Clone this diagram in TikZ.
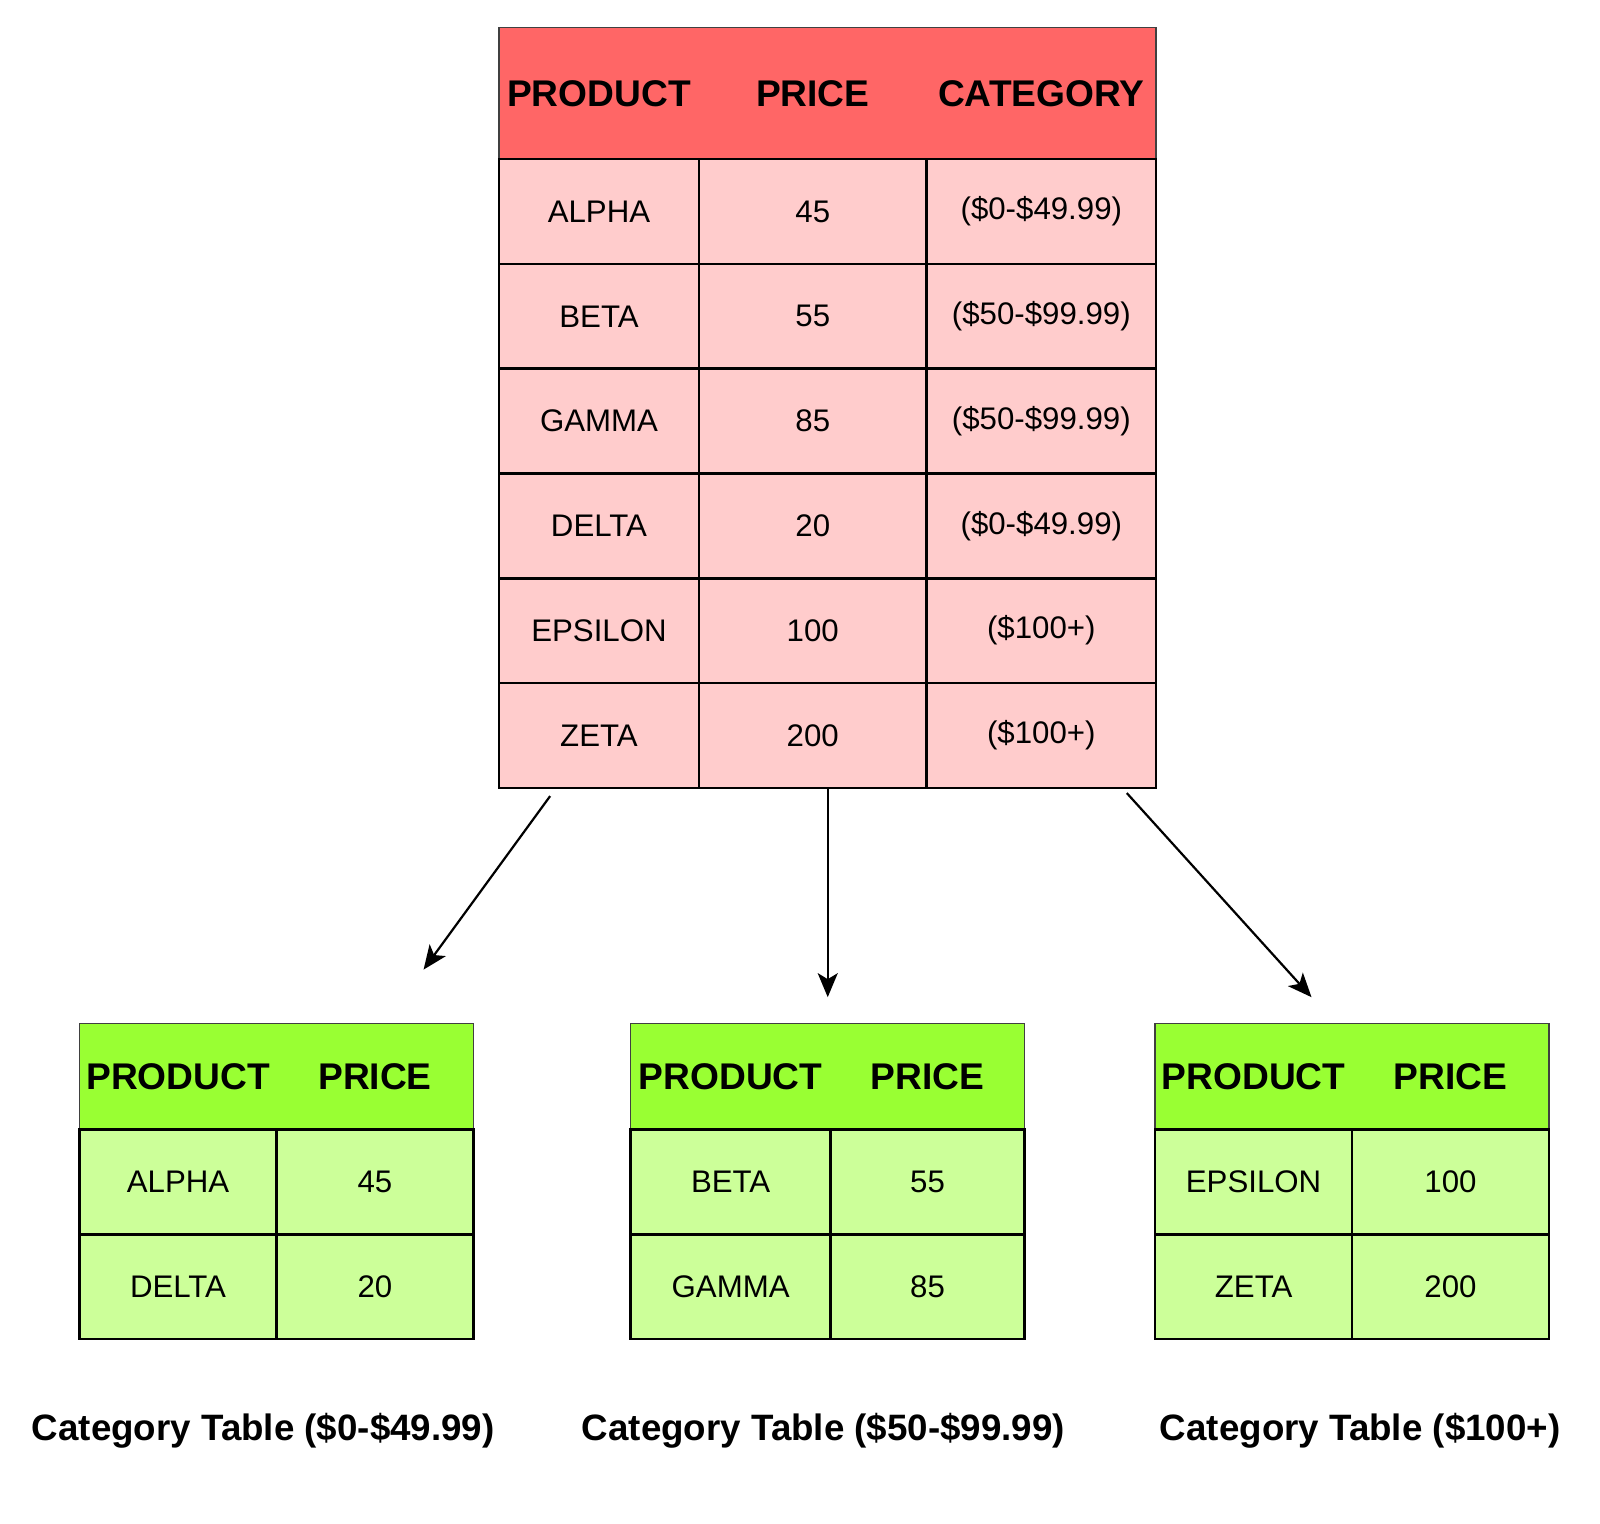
\documentclass[tikz,border=0pt]{standalone}
\usepackage{fontspec}
\setmainfont{Liberation Sans}
\usetikzlibrary{arrows.meta}
\definecolor{hdrred}{HTML}{FF6666}
\definecolor{cellpink}{HTML}{FFCCCC}
\definecolor{hdrgreen}{HTML}{99FF33}
\definecolor{cellgreen}{HTML}{CCFF99}
\begin{document}
\begin{tikzpicture}[x=1pt,y=-1pt,scale=1.0204,every node/.append style={transform shape},
  boxbase/.style={inner sep=0pt, outer sep=0pt, anchor=north west},
  hdrbox/.style={boxbase, draw=black!75, line width=1.5pt},
  cellbox/.style={boxbase, draw=black, line width=2.5pt, font=\fontsize{30.6}{36}\selectfont},
  hdrtext/.style={inner sep=0pt, font=\fontsize{36.4}{43}\selectfont\bfseries},
  captext/.style={inner sep=0pt, font=\fontsize{36}{43}\selectfont\bfseries},
  arr/.style={draw=black, line width=2.2pt, -{Stealth[length=24pt,width=20pt,inset=6pt]}}]
\useasboundingbox (0,0) rectangle (1568,1493.5);
\fill[white] (0,0) rectangle (1568,1493.5);

% ---------- main table ----------
\node[hdrbox, fill=hdrred, minimum width=644pt, minimum height=129pt] (mhead) at (489,27) {};
\node[hdrtext] (mhp) at (587,91.5) {PRODUCT};
\node[hdrtext] (mhq) at (796.5,91.5) {PRICE};
\node[hdrtext] (mhc) at (1020.5,91.5) {CATEGORY};
\foreach \pn/\pp/\pc [count=\i] in {ALPHA/45/(\$0-\$49.99),BETA/55/(\$50-\$99.99),GAMMA/85/(\$50-\$99.99),DELTA/20/(\$0-\$49.99),EPSILON/100/(\$100+),ZETA/200/(\$100+)}{
  \pgfmathsetmacro\yt{156+102.67*(\i-1)}
  \node[cellbox, fill=cellpink, minimum width=196pt, minimum height=102.67pt] (m\i a) at (489,\yt) {\pn};
  \node[cellbox, fill=cellpink, minimum width=223pt, minimum height=102.67pt] (m\i b) at (685,\yt) {\pp};
  \node[cellbox, fill=cellpink, minimum width=225pt, minimum height=102.67pt] (m\i c) at (908,\yt) {\pc};
}

% ---------- category tables ----------
\foreach \x/\cw/\na/\pa/\nb/\pb [count=\k] in {78/193/ALPHA/45/DELTA/20,618/196/BETA/55/GAMMA/85,1132/193/EPSILON/100/ZETA/200}{
  \pgfmathsetmacro\cwb{386-\cw}
  \node[hdrbox, fill=hdrgreen, minimum width=386pt, minimum height=104pt] (t\k head) at (\x,1003) {};
  \node[hdrtext] (t\k hp) at (\x+\cw/2,1055) {PRODUCT};
  \node[hdrtext] (t\k hq) at (\x+\cw+\cwb/2,1055) {PRICE};
  \node[cellbox, fill=cellgreen, minimum width=\cw pt, minimum height=103pt] (t\k r1a) at (\x,1107) {\na};
  \node[cellbox, fill=cellgreen, minimum width=\cwb pt, minimum height=103pt] (t\k r1b) at (\x+\cw,1107) {\pa};
  \node[cellbox, fill=cellgreen, minimum width=\cw pt, minimum height=102pt] (t\k r2a) at (\x,1210) {\nb};
  \node[cellbox, fill=cellgreen, minimum width=\cwb pt, minimum height=102pt] (t\k r2b) at (\x+\cw,1210) {\pb};
}
\node[captext] (cap1) at (258,1402) {Category Table (\$0-\$49.99)};
\node[captext] (cap2) at (807,1402) {Category Table (\$50-\$99.99)};
\node[captext] (cap3) at (1333,1402) {Category Table (\$100+)};

% ---------- arrows ----------
\coordinate (a1s) at (539,780);
\coordinate (a1e) at (415,950);
\coordinate (a2s) at (811,773);
\coordinate (a2e) at (811,977);
\coordinate (a3s) at (1104,777);
\coordinate (a3e) at (1285,977);
\draw[arr] (a1s) -- (a1e);
\draw[arr] (a2s) -- (a2e);
\draw[arr] (a3s) -- (a3e);
\end{tikzpicture}
\end{document}
